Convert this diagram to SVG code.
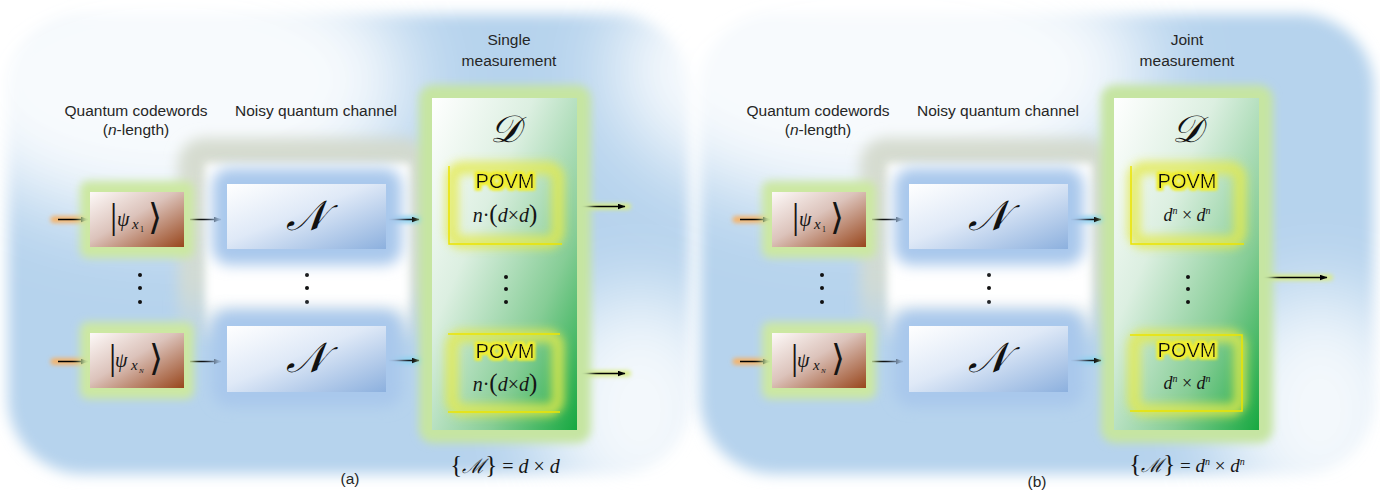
<svg xmlns="http://www.w3.org/2000/svg" width="1380" height="494" viewBox="0 0 1380 494">
<defs>
<style>
.lbl{font-family:"Liberation Sans",Arial,sans-serif;font-size:15.5px;fill:#262626;text-anchor:middle}
.povm{font-family:"Liberation Sans",Arial,sans-serif;font-size:20px;fill:#111;text-anchor:middle}
.m{font-family:"Liberation Serif","DejaVu Serif",serif;fill:#151515}
.mi{font-family:"Liberation Serif","DejaVu Serif",serif;font-style:italic;fill:#151515}
.cal{font-family:"DejaVu Serif","Liberation Serif",serif;font-style:italic;fill:#111;text-anchor:middle}
.arr{stroke:#000;stroke-width:1.5;fill:none;marker-end:url(#ah)}
.yl{stroke:#ece400;stroke-width:1.5;fill:none}
.dot{fill:#111}
.pg{fill:none;stroke:#e4ea4e;stroke-width:13;opacity:0.8}
</style>
<marker id="ah" markerWidth="8" markerHeight="6" refX="7.5" refY="3" orient="auto" markerUnits="userSpaceOnUse"><path d="M0,0 L8,3 L0,6 z" fill="#000"/></marker>
<filter id="b2" x="-50%" y="-50%" width="200%" height="200%"><feGaussianBlur stdDeviation="2"/></filter>
<filter id="b4" x="-30%" y="-30%" width="160%" height="160%"><feGaussianBlur stdDeviation="4"/></filter>
<filter id="b5" x="-30%" y="-30%" width="160%" height="160%"><feGaussianBlur stdDeviation="5"/></filter>
<filter id="b7" x="-30%" y="-30%" width="160%" height="160%"><feGaussianBlur stdDeviation="7"/></filter>
<filter id="b40" x="-50%" y="-50%" width="200%" height="200%"><feGaussianBlur stdDeviation="40"/></filter>
<filter id="yglow" x="-20%" y="-50%" width="140%" height="200%">
<feMorphology in="SourceAlpha" operator="dilate" radius="1.6" result="d"/>
<feFlood flood-color="#f0ee30"/>
<feComposite in2="d" operator="in" result="c"/>
<feGaussianBlur in="c" stdDeviation="1.5" result="g"/>
<feMerge><feMergeNode in="g"/><feMergeNode in="g"/><feMergeNode in="SourceGraphic"/></feMerge>
</filter>
<linearGradient id="brown" x1="0" y1="0" x2="1" y2="1"><stop offset="0" stop-color="#fdf9f8"/><stop offset="0.45" stop-color="#dcc3bb"/><stop offset="1" stop-color="#98461c"/></linearGradient>
<linearGradient id="blue" x1="0" y1="0" x2="1" y2="1"><stop offset="0" stop-color="#ffffff"/><stop offset="0.45" stop-color="#dfe9f7"/><stop offset="1" stop-color="#8cb0de"/></linearGradient>
<linearGradient id="green" x1="0" y1="0" x2="1" y2="1"><stop offset="0" stop-color="#ffffff"/><stop offset="0.35" stop-color="#dcefe1"/><stop offset="0.7" stop-color="#86cd96"/><stop offset="1" stop-color="#16a840"/></linearGradient>
<linearGradient id="grayfade" x1="0" y1="0" x2="0" y2="1"><stop offset="0" stop-color="#d3d9cc" stop-opacity="0.95"/><stop offset="0.7" stop-color="#d6dccf" stop-opacity="0.8"/><stop offset="1" stop-color="#d6dccf" stop-opacity="0"/></linearGradient>
<linearGradient id="whitefade" x1="0" y1="0" x2="0" y2="1"><stop offset="0" stop-color="#ffffff"/><stop offset="0.75" stop-color="#ffffff"/><stop offset="1" stop-color="#ffffff" stop-opacity="0"/></linearGradient>
</defs>
<rect width="1380" height="494" fill="#ffffff"/>

<!-- panel backgrounds -->
<g id="panel-a-bg">
<rect x="8" y="14" width="682" height="460" rx="75" fill="#b6d3ed" filter="url(#b7)"/>
<ellipse cx="170" cy="80" rx="240" ry="140" fill="#ffffff" opacity="0.9" filter="url(#b40)"/>
<ellipse cx="640" cy="410" rx="100" ry="120" fill="#ffffff" opacity="0.85" filter="url(#b40)"/>
<rect x="178" y="138" width="252" height="210" rx="26" fill="url(#grayfade)" filter="url(#b7)"/>
<rect x="205" y="163" width="205" height="180" fill="url(#whitefade)" filter="url(#b4)"/>
</g>
<g id="panel-b-bg">
<rect x="700" y="14" width="674" height="460" rx="75" fill="#b6d3ed" filter="url(#b7)"/>
<ellipse cx="880" cy="70" rx="270" ry="140" fill="#ffffff" opacity="0.9" filter="url(#b40)"/>
<ellipse cx="1320" cy="410" rx="100" ry="120" fill="#ffffff" opacity="0.85" filter="url(#b40)"/>
<rect x="860" y="138" width="252" height="210" rx="26" fill="url(#grayfade)" filter="url(#b7)"/>
<rect x="887" y="163" width="205" height="180" fill="url(#whitefade)" filter="url(#b4)"/>
</g>

<!-- labels -->
<g id="labels">
<text class="lbl" x="136" y="116">Quantum codewords</text>
<text class="lbl" x="136" y="135">(<tspan font-style="italic">n</tspan>-length)</text>
<text class="lbl" x="316" y="116">Noisy quantum channel</text>
<text class="lbl" x="509" y="45">Single</text>
<text class="lbl" x="509" y="66">measurement</text>
<text class="lbl" x="350" y="484">(a)</text>
<text class="lbl" x="818" y="116">Quantum codewords</text>
<text class="lbl" x="818" y="135">(<tspan font-style="italic">n</tspan>-length)</text>
<text class="lbl" x="998" y="116">Noisy quantum channel</text>
<text class="lbl" x="1187" y="45">Joint</text>
<text class="lbl" x="1187" y="66">measurement</text>
<text class="lbl" x="1037" y="487">(b)</text>
</g>

<!-- connectors -->
<g id="connectors">
<g filter="url(#b2)" stroke-width="7" stroke-linecap="round">
<line x1="54" y1="219.5" x2="90" y2="219.5" stroke="#f4b46c"/>
<line x1="54" y1="361.5" x2="90" y2="361.5" stroke="#f4b46c"/>
<line x1="390" y1="219.5" x2="420" y2="219.5" stroke="#86d6f2"/>
<line x1="390" y1="360.5" x2="420" y2="360.5" stroke="#86d6f2"/>
<line x1="560" y1="206.5" x2="628" y2="206.5" stroke="#d9ec86" stroke-width="6"/>
<line x1="560" y1="373.5" x2="628" y2="373.5" stroke="#d9ec86" stroke-width="6"/>
<line x1="736" y1="219.5" x2="772" y2="219.5" stroke="#f4b46c"/>
<line x1="736" y1="361.5" x2="772" y2="361.5" stroke="#f4b46c"/>
<line x1="1072" y1="219.5" x2="1102" y2="219.5" stroke="#86d6f2"/>
<line x1="1072" y1="360.5" x2="1102" y2="360.5" stroke="#86d6f2"/>
<line x1="1262" y1="277.5" x2="1330" y2="277.5" stroke="#d9ec86" stroke-width="6"/>
</g>
<line class="arr" x1="58" y1="219.5" x2="88" y2="219.5"/>
<line class="arr" x1="58" y1="361.5" x2="88" y2="361.5"/>
<line class="arr" x1="190" y1="219.5" x2="221" y2="219.5"/>
<line class="arr" x1="190" y1="361.5" x2="221" y2="361.5"/>
<line class="arr" x1="389" y1="219.5" x2="419" y2="219.5"/>
<line class="arr" x1="389" y1="360.5" x2="419" y2="360.5"/>
<line class="arr" x1="561" y1="206.5" x2="625" y2="206.5"/>
<line class="arr" x1="561" y1="373.5" x2="625" y2="373.5"/>
<line class="arr" x1="740" y1="219.5" x2="770" y2="219.5"/>
<line class="arr" x1="740" y1="361.5" x2="770" y2="361.5"/>
<line class="arr" x1="872" y1="219.5" x2="903" y2="219.5"/>
<line class="arr" x1="872" y1="361.5" x2="903" y2="361.5"/>
<line class="arr" x1="1071" y1="219.5" x2="1101" y2="219.5"/>
<line class="arr" x1="1071" y1="360.5" x2="1101" y2="360.5"/>
<line class="arr" x1="1263" y1="277.5" x2="1327" y2="277.5"/>
</g>

<!-- panel (a) nodes -->
<g id="cw-a1">
<rect x="80" y="181" width="114" height="77" rx="8" fill="#cce8a2" filter="url(#b4)"/>
<rect x="90" y="192" width="94" height="55" fill="url(#brown)"/>
<text class="m" x="110" y="228" font-size="36">|</text>
<text class="mi" x="117" y="226" font-size="20">ψ</text>
<text class="mi" x="132" y="229" font-size="15">x</text>
<text class="m" x="140" y="232" font-size="8">1</text>
<text class="m" x="148" y="229" font-size="36">⟩</text>
</g>
<g id="cw-a2">
<rect x="80" y="322" width="114" height="77" rx="8" fill="#cce8a2" filter="url(#b4)"/>
<rect x="90" y="333" width="94" height="55" fill="url(#brown)"/>
<text class="m" x="109" y="369" font-size="36">|</text>
<text class="mi" x="115" y="367" font-size="20">ψ</text>
<text class="mi" x="131" y="370" font-size="15">x</text>
<text class="mi" x="139" y="373" font-size="7">N</text>
<text class="m" x="149" y="370" font-size="36">⟩</text>
</g>
<g id="dots-a">
<circle class="dot" cx="140" cy="275" r="2"/><circle class="dot" cx="140" cy="288" r="2"/><circle class="dot" cx="140" cy="302" r="2"/>
<circle class="dot" cx="307" cy="275" r="2"/><circle class="dot" cx="307" cy="288" r="2"/><circle class="dot" cx="307" cy="302" r="2"/>
</g>
<g id="ch-a1">
<rect x="212" y="168" width="190" height="97" rx="18" fill="#a9c8ec" filter="url(#b7)"/>
<rect x="227" y="184" width="159" height="65" fill="url(#blue)"/>
<text class="cal" x="306" y="230" font-size="42">𝒩</text>
</g>
<g id="ch-a2">
<rect x="212" y="310" width="190" height="97" rx="18" fill="#a9c8ec" filter="url(#b7)"/>
<rect x="227" y="326" width="159" height="66" fill="url(#blue)"/>
<text class="cal" x="306" y="372" font-size="42">𝒩</text>
</g>
<g id="meas-a">
<rect x="419" y="85" width="172" height="358" rx="14" fill="#c6e5a2" filter="url(#b4)"/>
<rect x="432" y="98" width="145" height="332" fill="url(#green)"/>
<text class="cal" x="505" y="142" font-size="38">𝒟</text>
<circle class="dot" cx="506" cy="277" r="2"/><circle class="dot" cx="506" cy="289" r="2"/><circle class="dot" cx="506" cy="302" r="2"/>
</g>
<g id="povm-a1">
<rect class="pg" x="452" y="168" width="106" height="74" rx="10" filter="url(#b5)"/>
<path class="yl" d="M449,166 V244 H562"/>
<text class="povm" x="505" y="188" filter="url(#yglow)">POVM</text>
<text class="m" x="505" y="222" font-size="20" text-anchor="middle"><tspan font-style="italic">n</tspan>·<tspan font-size="25">(</tspan><tspan font-style="italic">d</tspan>×<tspan font-style="italic">d</tspan><tspan font-size="25">)</tspan></text>
</g>
<g id="povm-a2">
<rect class="pg" x="452" y="336" width="106" height="74" rx="10" filter="url(#b5)"/>
<line class="yl" x1="448" y1="334" x2="560" y2="334"/>
<line class="yl" x1="448" y1="412" x2="560" y2="412"/>
<text class="povm" x="505" y="358" filter="url(#yglow)">POVM</text>
<text class="m" x="505" y="391" font-size="20" text-anchor="middle"><tspan font-style="italic">n</tspan>·<tspan font-size="25">(</tspan><tspan font-style="italic">d</tspan>×<tspan font-style="italic">d</tspan><tspan font-size="25">)</tspan></text>
</g>
<g id="formula-a">
<text class="m" x="505" y="473" font-size="20" text-anchor="middle"><tspan font-size="25">{</tspan><tspan font-style="italic">ℳ</tspan><tspan font-size="25">}</tspan> = <tspan font-style="italic">d</tspan> × <tspan font-style="italic">d</tspan></text>
</g>

<!-- panel (b) nodes -->
<g id="cw-b1">
<rect x="762" y="181" width="114" height="77" rx="8" fill="#cce8a2" filter="url(#b4)"/>
<rect x="772" y="192" width="94" height="55" fill="url(#brown)"/>
<text class="m" x="792" y="228" font-size="36">|</text>
<text class="mi" x="799" y="226" font-size="20">ψ</text>
<text class="mi" x="814" y="229" font-size="15">x</text>
<text class="m" x="822" y="232" font-size="8">1</text>
<text class="m" x="830" y="229" font-size="36">⟩</text>
</g>
<g id="cw-b2">
<rect x="762" y="322" width="114" height="77" rx="8" fill="#cce8a2" filter="url(#b4)"/>
<rect x="772" y="333" width="94" height="55" fill="url(#brown)"/>
<text class="m" x="791" y="369" font-size="36">|</text>
<text class="mi" x="797" y="367" font-size="20">ψ</text>
<text class="mi" x="813" y="370" font-size="15">x</text>
<text class="mi" x="821" y="373" font-size="7">N</text>
<text class="m" x="831" y="370" font-size="36">⟩</text>
</g>
<g id="dots-b">
<circle class="dot" cx="822" cy="275" r="2"/><circle class="dot" cx="822" cy="288" r="2"/><circle class="dot" cx="822" cy="302" r="2"/>
<circle class="dot" cx="989" cy="275" r="2"/><circle class="dot" cx="989" cy="288" r="2"/><circle class="dot" cx="989" cy="302" r="2"/>
</g>
<g id="ch-b1">
<rect x="894" y="168" width="190" height="97" rx="18" fill="#a9c8ec" filter="url(#b7)"/>
<rect x="909" y="184" width="159" height="65" fill="url(#blue)"/>
<text class="cal" x="988" y="230" font-size="42">𝒩</text>
</g>
<g id="ch-b2">
<rect x="894" y="310" width="190" height="97" rx="18" fill="#a9c8ec" filter="url(#b7)"/>
<rect x="909" y="326" width="159" height="66" fill="url(#blue)"/>
<text class="cal" x="988" y="372" font-size="42">𝒩</text>
</g>
<g id="meas-b">
<rect x="1101" y="85" width="172" height="358" rx="14" fill="#c6e5a2" filter="url(#b4)"/>
<rect x="1114" y="98" width="145" height="332" fill="url(#green)"/>
<text class="cal" x="1187" y="142" font-size="38">𝒟</text>
<circle class="dot" cx="1188" cy="277" r="2"/><circle class="dot" cx="1188" cy="289" r="2"/><circle class="dot" cx="1188" cy="302" r="2"/>
</g>
<g id="povm-b1">
<rect class="pg" x="1134" y="168" width="106" height="74" rx="10" filter="url(#b5)"/>
<path class="yl" d="M1131,166 V244 H1244"/>
<text class="povm" x="1187" y="188" filter="url(#yglow)">POVM</text>
<text class="m" x="1187" y="221" font-size="18" text-anchor="middle"><tspan font-style="italic">d</tspan><tspan font-size="10" dy="-7" font-style="italic">n</tspan><tspan dy="7"> × </tspan><tspan font-style="italic">d</tspan><tspan font-size="10" dy="-7" font-style="italic">n</tspan></text>
</g>
<g id="povm-b2">
<rect class="pg" x="1134" y="336" width="106" height="74" rx="10" filter="url(#b5)"/>
<path class="yl" d="M1130,335 H1242 V411 H1130"/>
<text class="povm" x="1187" y="357" filter="url(#yglow)">POVM</text>
<text class="m" x="1187" y="389" font-size="18" text-anchor="middle"><tspan font-style="italic">d</tspan><tspan font-size="10" dy="-7" font-style="italic">n</tspan><tspan dy="7"> × </tspan><tspan font-style="italic">d</tspan><tspan font-size="10" dy="-7" font-style="italic">n</tspan></text>
</g>
<g id="formula-b">
<text class="m" x="1187" y="472" font-size="19" text-anchor="middle"><tspan font-size="25">{</tspan><tspan font-style="italic">ℳ</tspan><tspan font-size="25">}</tspan> = <tspan font-style="italic">d</tspan><tspan font-size="10" dy="-7" font-style="italic">n</tspan><tspan dy="7"> × </tspan><tspan font-style="italic">d</tspan><tspan font-size="10" dy="-7" font-style="italic">n</tspan></text>
</g>
</svg>
